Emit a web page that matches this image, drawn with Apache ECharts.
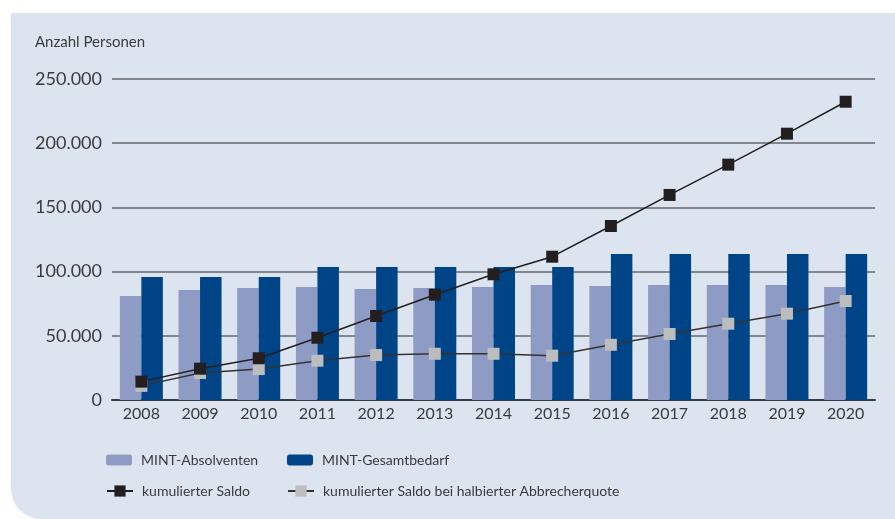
<!DOCTYPE html>
<html>
<head>
<meta charset="utf-8">
<script src="https://cdn.jsdelivr.net/npm/echarts@6/dist/echarts.min.js"></script>
<style>
  html, body { margin: 0; padding: 0; background: #fff; }
  #chart { width: 895px; height: 519px; }
</style>
</head>
<body>
<div id="chart"></div>
<script>
const years = ['2008', '2009', '2010', '2011', '2012', '2013', '2014', '2015', '2016', '2017', '2018', '2019', '2020']
const absolventen = [81000, 85700, 87200, 88000, 86400, 87200, 88000, 89600, 88800, 89600, 89600, 89600, 88000]
const gesamtbedarf = [95800, 95800, 95800, 103600, 103600, 103600, 103600, 103600, 113700, 113700, 113700, 113700, 113700]
const saldo = [14300, 24400, 32500, 48500, 65400, 82000, 97900, 111600, 135500, 159700, 183300, 207400, 232300]
const saldoHalb = [11000, 21000, 24100, 30600, 35000, 36000, 36000, 34500, 43000, 51400, 59400, 67200, 77100]

const font = 'Lato, "Open Sans", sans-serif'
const textColor = '#3a3a3a'

const chart = echarts.init(document.getElementById('chart'), null, { renderer: 'canvas' })

// one legend per item so each can sit where the original puts it
function legendAt(name, left, top, h) {
  return {
    data: [name],
    left: left,
    top: top,
    itemWidth: 26,
    itemHeight: h,
    itemGap: 0,
    padding: 0,
    selectedMode: false,
    textStyle: { fontFamily: font, fontSize: 14, color: textColor, padding: [0, 0, 0, 4] }
  }
}

const option = {
  backgroundColor: '#ffffff',
  animation: false,
  graphic: [{
    type: 'rect',
    z: -10,
    shape: { x: 11, y: 13, width: 884, height: 506, r: [0, 0, 0, 30] },
    style: { fill: '#dce5ef' }
  }],
  title: {
    text: 'Anzahl Personen',
    left: 35,
    top: 35,
    padding: 0,
    textStyle: { fontFamily: font, fontSize: 15, fontWeight: 'normal', color: textColor }
  },
  legend: [
    legendAt('MINT-Absolventen', 106, 453, 11),
    legendAt('MINT-Gesamtbedarf', 287, 453, 11),
    legendAt('kumulierter Saldo', 106, 484, 14),
    legendAt('kumulierter Saldo bei halbierter Abbrecherquote', 287, 484, 14)
  ],
  grid: { left: 112, right: 20, top: 79, bottom: 119, containLabel: false },
  xAxis: {
    type: 'category',
    data: years,
    axisLine: { show: true, lineStyle: { color: '#3c3c40', width: 2 } },
    axisTick: { show: false },
    axisLabel: { fontFamily: font, fontSize: 16, color: textColor, margin: 6 }
  },
  yAxis: {
    type: 'value',
    min: 0,
    max: 250000,
    interval: 50000,
    axisLine: { show: false },
    axisTick: { show: false },
    splitLine: { lineStyle: { color: '#66666c', width: 1.5 } },
    axisLabel: {
      fontFamily: font,
      fontSize: 18,
      color: textColor,
      margin: 10,
      formatter: v => v === 0 ? '0' : (v / 1000).toFixed(0) + '.000'
    }
  },
  series: [
    {
      name: 'MINT-Absolventen',
      type: 'bar',
      data: absolventen,
      barWidth: 21.5,
      barGap: '0%',
      itemStyle: { color: '#8e9bc4' }
    },
    {
      name: 'MINT-Gesamtbedarf',
      type: 'bar',
      data: gesamtbedarf,
      barWidth: 21.5,
      barGap: '0%',
      itemStyle: { color: '#004488' }
    },
    {
      name: 'kumulierter Saldo bei halbierter Abbrecherquote',
      type: 'line',
      data: saldoHalb,
      symbol: 'rect',
      symbolSize: 12,
      lineStyle: { color: '#333333', width: 1.5 },
      itemStyle: { color: '#bcbdbf' }
    },
    {
      name: 'kumulierter Saldo',
      type: 'line',
      data: saldo,
      symbol: 'rect',
      symbolSize: 12,
      lineStyle: { color: '#231f20', width: 1.5 },
      itemStyle: { color: '#231f20' }
    }
  ]
}

chart.setOption(option)
</script>
</body>
</html>
